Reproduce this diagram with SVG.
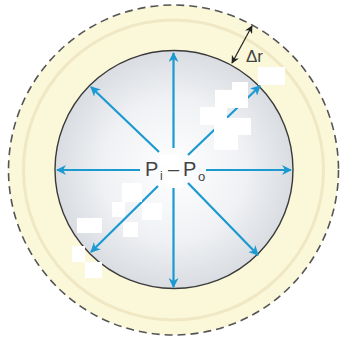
<svg xmlns="http://www.w3.org/2000/svg" width="340" height="341" viewBox="0 0 340 341">
<defs>
<radialGradient id="g" cx="0.5" cy="0.5" r="0.5">
<stop offset="0" stop-color="#ffffff"/>
<stop offset="0.6" stop-color="#eff1f4"/>
<stop offset="1" stop-color="#d9dce1"/>
</radialGradient>
<marker id="ah" viewBox="0 0 10 10" refX="9" refY="5" markerWidth="10" markerHeight="10" markerUnits="userSpaceOnUse" orient="auto">
<path d="M0,0 L10,5 L0,10 L3,5 Z" fill="#1b9ad2"/>
</marker>
<marker id="bh" viewBox="0 0 10 10" refX="9" refY="5" markerWidth="8" markerHeight="8" markerUnits="userSpaceOnUse" orient="auto-start-reverse">
<path d="M0,0 L10,5 L0,10 L3,5 Z" fill="#222"/>
</marker>
<style>
.ar{stroke:#1b9ad2;stroke-width:2.2;fill:none;marker-end:url(#ah)}
.t{font-family:"Liberation Sans",Arial,sans-serif;fill:#444}
.w{fill:#ffffff}
</style>
</defs>
<rect width="340" height="341" fill="#ffffff"/>
<g id="shell">
<circle cx="173.5" cy="170" r="165" fill="#fbf7d9" stroke="#555" stroke-width="1.6" stroke-dasharray="8,5"/>
<circle cx="173.5" cy="170" r="150" fill="none" stroke="#f0e8c4" stroke-width="3"/>
</g>
<g id="sphere">
<circle cx="174" cy="169.5" r="119" fill="url(#g)" stroke="#3a3a3a" stroke-width="1.4"/>
</g>
<g id="connectors">
<line class="ar" x1="173.5" y1="148" x2="173.5" y2="53"/>
<line class="ar" x1="173.5" y1="188" x2="173.5" y2="287"/>
<line class="ar" x1="140" y1="170" x2="57" y2="170"/>
<line class="ar" x1="206" y1="170" x2="291" y2="170"/>
<line class="ar" x1="159" y1="152" x2="91" y2="87"/>
<line class="ar" x1="188" y1="183" x2="258" y2="255"/>
<line class="ar" x1="188" y1="155" x2="260" y2="86"/>
<line class="ar" x1="158" y1="186" x2="91" y2="252"/>
<line x1="252" y1="26" x2="232" y2="63" stroke="#222" stroke-width="1.2" marker-start="url(#bh)" marker-end="url(#bh)"/>
</g>
<g id="label-p">
<text class="t" x="145" y="176" font-size="20">P</text>
<text class="t" x="160" y="180" font-size="12">i</text>
<text class="t" x="168" y="176" font-size="20">–</text>
<text class="t" x="183" y="176" font-size="20">P</text>
<text class="t" x="198" y="181" font-size="13">o</text>
</g>
<g id="label-dr">
<text class="t" x="246" y="62" font-size="17">Δr</text>
</g>
<g id="patches">
<rect class="w" x="258" y="67" width="27" height="18"/>
<rect class="w" x="232" y="82" width="16" height="18"/>
<rect class="w" x="215" y="90" width="33" height="18"/>
<rect class="w" x="200" y="107" width="27" height="18"/>
<rect class="w" x="214" y="118" width="37" height="17"/>
<rect class="w" x="214" y="135" width="24" height="15"/>
<rect class="w" x="160" y="155" width="20" height="12"/>
<rect class="w" x="167" y="172" width="16" height="16"/>
<rect class="w" x="122" y="183" width="20" height="19"/>
<rect class="w" x="112" y="202" width="13" height="15"/>
<rect class="w" x="142" y="203" width="20" height="17"/>
<rect class="w" x="123" y="222" width="15" height="15"/>
<rect class="w" x="77" y="218" width="25" height="15"/>
<rect class="w" x="72" y="246" width="13" height="16"/>
<rect class="w" x="85" y="262" width="17" height="16"/>
</g>
</svg>
